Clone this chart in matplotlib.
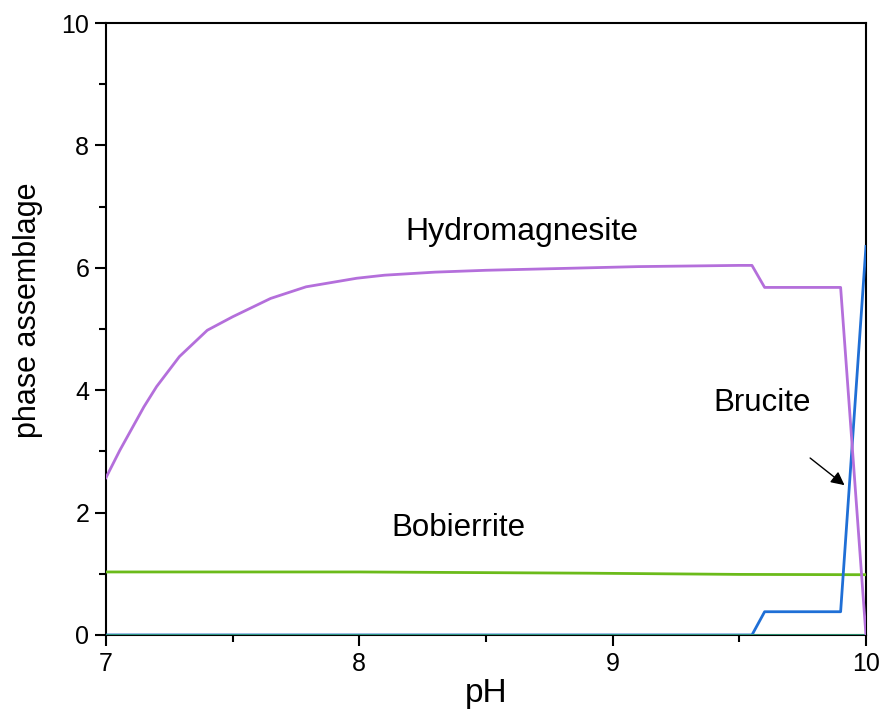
import matplotlib.pyplot as plt
from matplotlib.ticker import MultipleLocator

plt.rcParams['font.family'] = ['Liberation Sans', 'DejaVu Sans']

# Hydromagnesite curve (pH, amount)
hm_ph = [7.0, 7.055, 7.15, 7.2, 7.29, 7.4, 7.5, 7.65, 7.79, 7.99, 8.1, 8.3, 8.5,
         8.7, 8.9, 9.1, 9.3, 9.5, 9.55, 9.6, 9.9, 10.0]
hm_val = [2.57, 3.02, 3.73, 4.06, 4.55, 4.98, 5.20, 5.50, 5.69, 5.83, 5.88, 5.93, 5.96,
          5.98, 6.00, 6.02, 6.03, 6.04, 6.04, 5.68, 5.68, 0.0]

# Brucite
br_ph = [7.0, 9.55, 9.6, 9.9, 10.0]
br_val = [0.0, 0.0, 0.38, 0.38, 6.35]

# Bobierrite
bo_ph = [7.0, 8.0, 8.9, 9.5, 10.0]
bo_val = [1.03, 1.03, 1.01, 0.99, 0.985]

# zero phase
zero_ph = [7.0, 10.0]
zero_val = [0.0, 0.0]

fig = plt.figure(figsize=(8.83, 7.21), dpi=100)
ax = fig.add_axes([0.12, 0.1193, 0.8607, 0.8487])

ax.plot(bo_ph, bo_val, color='#6BBB1A', lw=2.0, zorder=3)
ax.plot(br_ph, br_val, color='#1F6FD6', lw=2.0, zorder=4)
ax.plot(zero_ph, zero_val, color='#2E9A78', lw=2.0, zorder=4.5)
ax.plot(hm_ph, hm_val, color='#B46FDB', lw=2.0, zorder=5)

ax.text(8.64, 6.58, 'Hydromagnesite', fontsize=23, ha='center', va='center')
ax.text(8.39, 1.75, 'Bobierrite', fontsize=22.5, ha='center', va='center')
ax.text(9.59, 3.79, 'Brucite', fontsize=22.5, ha='center', va='center')
ax.annotate('', xy=(9.924, 2.42), xytext=(9.771, 2.92),
            arrowprops=dict(arrowstyle='-|>', color='black', lw=1.0, mutation_scale=20))

ax.set_xlim(7, 10)
ax.set_ylim(0, 10)
ax.xaxis.set_major_locator(MultipleLocator(1))
ax.xaxis.set_minor_locator(MultipleLocator(0.5))
ax.yaxis.set_major_locator(MultipleLocator(2))
ax.yaxis.set_minor_locator(MultipleLocator(1))
ax.tick_params(which='major', direction='out', length=8, width=1.5, labelsize=18, pad=4)
ax.tick_params(which='minor', direction='out', length=5, width=1.5)
ax.tick_params(top=False, right=False, which='both')
for s in ax.spines.values():
    s.set_linewidth(1.5)

ax.set_xlabel('pH', fontsize=24, labelpad=2)
ax.set_ylabel('phase assemblage', fontsize=22)
ax.yaxis.set_label_coords(-0.083, 0.531)

fig.savefig('out.png', dpi=100)
